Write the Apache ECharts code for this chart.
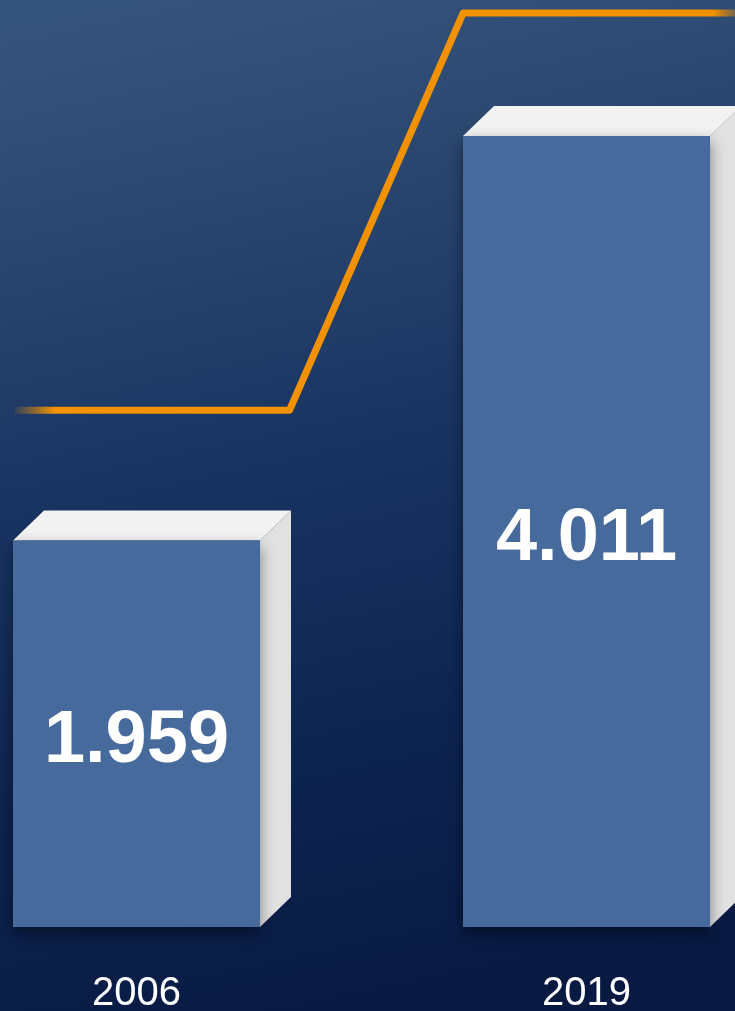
<!DOCTYPE html>
<html>
<head>
<meta charset="utf-8">
<script src="https://cdn.jsdelivr.net/npm/echarts@6/dist/echarts.min.js"></script>
<style>
  html, body { margin: 0; padding: 0; }
  #main { width: 735px; height: 1011px; }
</style>
</head>
<body>
<div id="main"></div>
<script>
// data
var years = ['2006', '2019'];
var values = [1.959, 4.011];
// decorative step line (x in category units, y in value units)
var stepX = [-0.27, 0.34, 0.726, 1.33];
var stepY = [2.62, 2.62, 4.634, 4.634];

var chart = echarts.init(document.getElementById('main'));

var FRONT_W = 247, DX = 31, DY = 30;

function renderBar(params, api) {
  var top = api.coord([api.value(0), api.value(1)]);
  var base = api.coord([api.value(0), 0]);
  var x0 = top[0] - FRONT_W / 2, x1 = top[0] + FRONT_W / 2;
  var y0 = top[1], y1 = base[1];
  return {
    type: 'group',
    children: [
      {
        type: 'polygon',
        shape: { points: [[x1, y0], [x1 + DX, y0 - DY], [x1 + DX, y1 - DY], [x1, y1]] },
        style: { fill: '#E1E1E1' }
      },
      {
        type: 'polygon',
        shape: { points: [[x0, y0], [x0 + DX, y0 - DY], [x1 + DX, y0 - DY], [x1, y0]] },
        style: { fill: '#F2F2F2' }
      },
      {
        type: 'rect',
        shape: { x: x0, y: y0, width: FRONT_W, height: y1 - y0 },
        style: {
          fill: '#476A9D',
          shadowBlur: 14, shadowColor: 'rgba(0,0,0,0.45)', shadowOffsetY: 6
        }
      },
      {
        type: 'text',
        x: top[0], y: (y0 + y1) / 2 + 8,
        style: {
          text: values[params.dataIndex].toFixed(3),
          fill: '#ffffff',
          font: 'bold 74px "Liberation Sans", Arial, sans-serif',
          align: 'center',
          verticalAlign: 'middle'
        }
      }
    ]
  };
}

var lineData = [];
for (var i = 0; i < stepX.length; i++) {
  lineData.push([stepX[i], stepY[i]]);
}

var option = {
  backgroundColor: {
    type: 'linear', x: 0.2, y: 0, x2: 0.5, y2: 1,
    colorStops: [
      { offset: 0, color: '#35547C' },
      { offset: 0.2, color: '#2B476F' },
      { offset: 0.45, color: '#193462' },
      { offset: 0.75, color: '#0D2450' },
      { offset: 1, color: '#081A42' }
    ]
  },
  animation: false,
  grid: { left: 0, right: 0, top: 0, bottom: 84, outerBoundsMode: 'none', containLabel: false },
  xAxis: {
    type: 'value',
    min: -0.3033,
    max: 1.33,
    splitLine: { show: false },
    axisLine: { show: false },
    axisTick: { show: false },
    axisLabel: {
      customValues: [0, 1],
      formatter: function (v) { return years[Math.round(v)]; },
      color: '#ffffff',
      fontSize: 40,
      fontFamily: '"Liberation Sans", Arial, sans-serif',
      margin: 47
    }
  },
  yAxis: { type: 'value', min: 0, max: 4.7, show: false },
  series: [
    {
      type: 'line',
      data: lineData,
      symbol: 'none',
      z: 1,
      lineStyle: {
        width: 7,
        join: 'round',
        color: {
          type: 'linear', x: 0, y: 0, x2: 1, y2: 0,
          colorStops: [
            { offset: 0, color: 'rgba(243,146,0,0)' },
            { offset: 0.06, color: '#F39200' },
            { offset: 0.965, color: '#F39200' },
            { offset: 1, color: 'rgba(243,146,0,0.25)' }
          ]
        }
      }
    },
    {
      type: 'custom',
      renderItem: renderBar,
      z: 2,
      data: values.map(function (v, i) { return [i, v]; }),
      encode: { x: 0, y: 1 }
    }
  ]
};

chart.setOption(option);
</script>
</body>
</html>
